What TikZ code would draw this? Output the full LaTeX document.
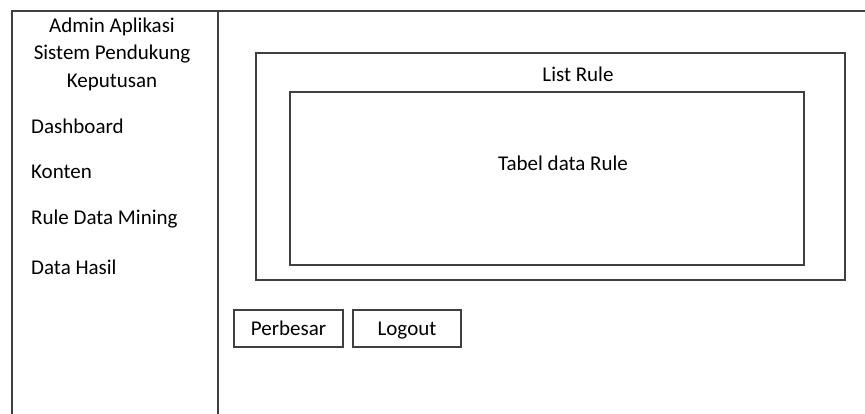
\documentclass[tikz,border=0pt]{standalone}
\usepackage{fontspec}
\setmainfont{Carlito}
\definecolor{garis}{HTML}{404040}
\tikzset{
  kotak/.style = {draw=garis, line width=1.2pt, inner sep=0pt},
  tombol/.style = {kotak, minimum height=37pt, text height=13.5pt, text depth=0pt, font=\fontsize{21}{27.5}\selectfont},
  menu/.style = {anchor=west, inner sep=0pt, font=\fontsize{21}{27.5}\selectfont},
  teks/.style = {inner sep=0pt, font=\fontsize{21}{27.5}\selectfont}
}
\begin{document}
\begin{tikzpicture}[x=1pt, y=-1pt]
\useasboundingbox (0,0) rectangle (865,414);
% bingkai
\coordinate (kiriatas) at (12,11);
\coordinate (kanan) at (865,11);
\coordinate (kiribawah) at (12,414);
\coordinate (sekatatas) at (218,11);
\coordinate (sekatbawah) at (218,414);
\draw[garis, line width=1.2pt] (kiribawah) -- (kiriatas) -- (kanan);
\draw[garis, line width=1.2pt] (sekatatas) -- (sekatbawah);
% sidebar
\node[teks, align=center] (judul) at (112,54) {Admin Aplikasi\\Sistem Pendukung\\Keputusan};
\node[menu] (dashboard) at (31,126) {Dashboard};
\node[menu] (konten) at (31,172) {Konten};
\node[menu] (rule) at (31,219) {Rule Data Mining};
\node[menu] (hasil) at (31,267) {Data Hasil};
% isi
\node[kotak, minimum width=589pt, minimum height=227pt] (list) at (550.5,166.5) {};
\node[teks] (judullist) at (578,74) {List Rule};
\node[kotak, minimum width=514pt, minimum height=173pt] (tabel) at (547,178.5) {};
\node[teks] (isitabel) at (563,163) {Tabel data Rule};
\node[tombol, minimum width=109pt] (perbesar) at (288.5,328.5) {Perbesar};
\node[tombol, minimum width=108pt] (logout) at (407,328.5) {Logout};
\end{tikzpicture}
\end{document}
